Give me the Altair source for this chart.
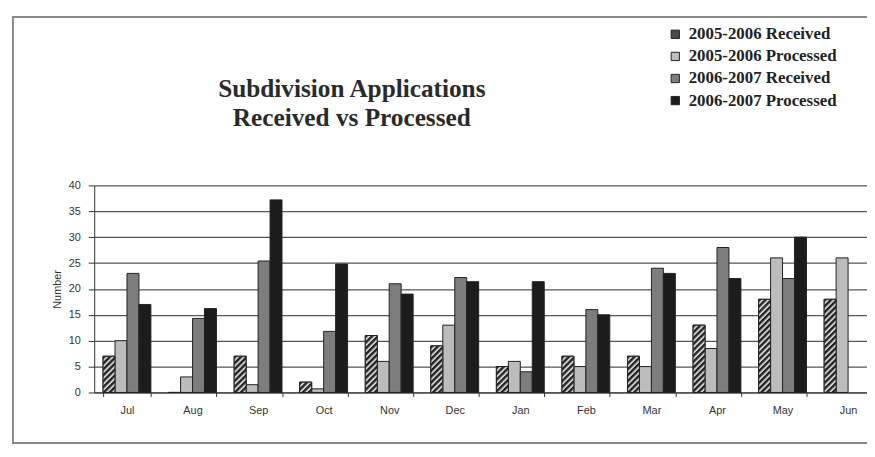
import altair as alt
import pandas as pd
from urllib.parse import quote

months = ["Jul", "Aug", "Sep", "Oct", "Nov", "Dec", "Jan", "Feb", "Mar", "Apr", "May", "Jun"]
series = ["2005-2006 Received", "2005-2006 Processed", "2006-2007 Received", "2006-2007 Processed"]
r0506 = [7, 0, 7, 2, 11, 9, 5, 7, 7, 13, 18, 18]
p0506 = [10, 3, 1.5, 0.7, 6, 13, 6, 5, 5, 8.5, 26, 26]
r0607 = [23, 14.3, 25.4, 11.8, 21, 22.2, 4, 16, 24, 28, 22, None]
p0607 = [17, 16.2, 37.2, 24.8, 19, 21.4, 21.4, 15, 23, 22, 30, None]
colors = ["#4a4a4a", "#bcbcbc", "#7d7d7d", "#1c1c1c"]

rows = []
for s, vals in zip(series, [r0506, p0506, r0607, p0607]):
    for m, v in zip(months, vals):
        if v is not None:
            rows.append({"Month": m, "Series": s, "Number": v})
df = pd.DataFrame(rows)

hatch_svg = (
    "<svg xmlns='http://www.w3.org/2000/svg' width='100%' height='100%'>"
    "<defs><pattern id='h' width='4.2' height='4.2' patternUnits='userSpaceOnUse' "
    "patternTransform='rotate(45)'><rect width='2.3' height='4.2' fill='#222222'/></pattern></defs>"
    "<rect width='100%' height='100%' fill='#cfcfcf'/>"
    "<rect width='100%' height='100%' fill='url(#h)'/></svg>"
)
hatch_url = "data:image/svg+xml;charset=utf-8," + quote(hatch_svg)

x_enc = alt.X("Month:N", sort=months,
              scale=alt.Scale(range=[0, 794], paddingInner=0.27, paddingOuter=0.135),
              axis=alt.Axis(title=None, labelFont="Liberation Sans", labelFontSize=11,
                            labelColor="#333333", tickBand="extent", tickSize=4,
                            tickColor="#333333", domainColor="#333333", labelPadding=8,
                            grid=False, labelAngle=0))
xoff_enc = alt.XOffset("Series:N", sort=series, scale=alt.Scale(paddingInner=0, paddingOuter=0))
y_enc = alt.Y("Number:Q", scale=alt.Scale(domain=[0, 40]),
              axis=alt.Axis(title="Number", values=list(range(0, 41, 5)),
                            titleFont="Liberation Sans", titleFontSize=11, titleFontWeight="normal",
                            titleColor="#333333", titlePadding=6,
                            labelFont="Liberation Sans", labelFontSize=11, labelColor="#333333",
                            tickSize=6, labelPadding=8, tickColor="#333333",
                            domainColor="#333333", gridColor="#555555", gridWidth=1.2))

base = alt.Chart(df)

bars = base.mark_bar(stroke="#222222", strokeWidth=1).encode(
    x=x_enc,
    xOffset=xoff_enc,
    y=y_enc,
    color=alt.Color("Series:N", sort=series,
                    scale=alt.Scale(domain=series, range=colors),
                    legend=alt.Legend(title=None, orient="none", legendX=578, legendY=-161,
                                      labelFont="Liberation Serif", labelFontWeight="bold",
                                      labelFontSize=17, labelColor="#222222",
                                      symbolType="square", symbolSize=70,
                                      symbolStrokeColor="#222222", symbolStrokeWidth=1,
                                      rowPadding=4.3, labelOffset=5)),
)

hatch = base.transform_filter(
    alt.datum.Series == series[0]
).mark_image(aspect=False).encode(
    x=x_enc,
    xOffset=xoff_enc,
    y=y_enc,
    y2=alt.datum(0),
    url=alt.value(hatch_url),
)

outline = base.transform_filter(
    alt.datum.Series == series[0]
).mark_bar(fill=None, stroke="#222222", strokeWidth=1).encode(
    x=x_enc, xOffset=xoff_enc, y=y_enc,
)

frame = alt.Chart(pd.DataFrame({"a": [0]})).mark_rect(
    fill=None, stroke="#8a8a8a", strokeWidth=2
).encode(x=alt.value(-82), x2=alt.value(900), y=alt.value(-170), y2=alt.value(260))

chart = alt.layer(frame, bars, hatch, outline).properties(
    width=780, height=209,
    autosize=alt.AutoSizeParams(type="none"),
    padding={"left": 87, "top": 177, "right": 0, "bottom": 53},
    title=alt.TitleParams(["Subdivision Applications", "Received vs Processed"],
                          font="Liberation Serif", fontSize=25.5, fontWeight="bold",
                          color="#2a2a2a", lineHeight=30, anchor="middle", dx=-130,
                          offset=-117),
).configure_view(stroke=None)

chart.save("out.html", embed_options={"renderer": "svg", "actions": False})
